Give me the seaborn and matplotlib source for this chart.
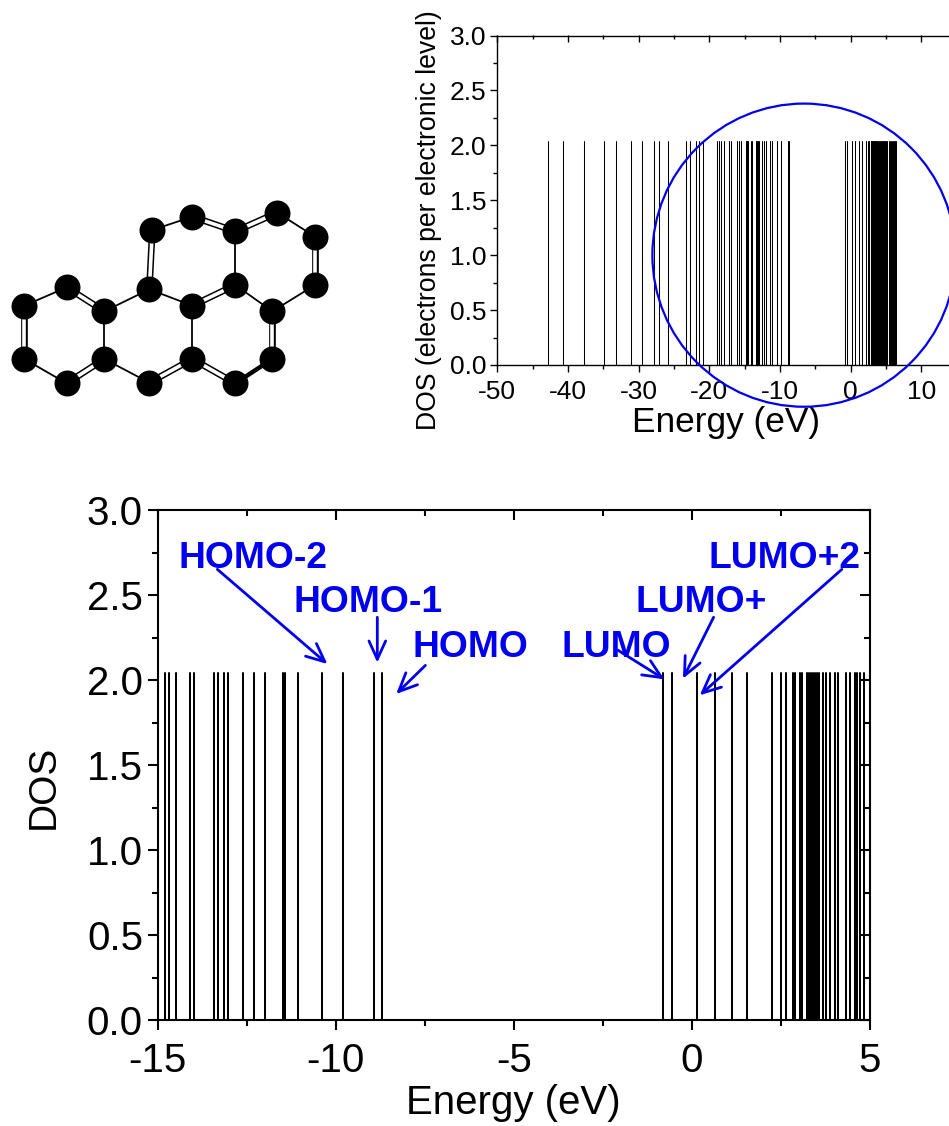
import pandas as pd
import seaborn as sns
import matplotlib.pyplot as plt
from matplotlib.patches import Ellipse
from matplotlib.ticker import MultipleLocator, FormatStrFormatter

# electronic levels in eV, all of them (the lower panel only shows -15..5)
levels_low = [-42.87, -40.7, -37.67, -34.9, -33.27, -31.04, -29.55, -27.82, -27.18, -25.84,
              -23.27, -22.67, -21.93, -21.39, -20.89, -18.94, -18.66, -18.37, -17.9, -17.15,
              -16.87, -16.11, -15.83, -15.46]
levels_occ = [-14.79, -14.69, -14.49, -14.09, -13.97, -13.41, -13.31, -13.13, -13.03,
              -12.6, -12.3, -11.97, -11.47, -11.41, -11.06, -10.39, -9.78, -8.92, -8.7]
levels_virt = [-0.82, -0.57, 0.13, 0.65, 1.14, 1.56, 2.25, 2.5, 2.65, 2.85, 2.89, 3.03, 3.08,
               3.24, 3.29, 3.35, 3.41, 3.46, 3.52, 3.58, 3.69, 3.77, 3.88, 4.02, 4.1, 4.32,
               4.43, 4.57, 4.64, 4.71, 4.84]
levels_high = [5.0, 5.2, 5.4, 5.6, 5.75, 5.9, 6.05, 6.2, 6.32, 6.43]
peak = 2.04

# label, text x, text y, arrow start x, y, arrow end x, y
tags = ["HOMO-2", "HOMO-1", "HOMO", "LUMO", "LUMO+", "LUMO+2"]
tag_x = [-14.4, -11.17, -7.85, -3.67, -1.59, 0.46]
tag_y = [2.66, 2.40, 2.137, 2.137, 2.40, 2.66]
arrow_from = [(-13.32, 2.651), (-8.83, 2.369), (-7.48, 2.086), (-2.08, 2.176), (0.61, 2.369), (4.21, 2.651)]
arrow_to = [(-10.23, 2.094), (-8.83, 2.102), (-8.30, 1.918), (-0.77, 2.004), (-0.25, 2.008), (0.22, 1.910)]

# molecule
atom_x = [73, 200, 313, 313, 200, 73, 448, 577, 577, 448, 457, 577, 706, 706, 832, 945, 945, 817, 817, 706]
atom_y = [347, 292, 364, 507, 580, 507, 578, 507, 347, 298, 120, 80, 124, 285, 68, 140, 285, 364, 507, 580]
single_bonds = [(0, 1), (2, 3), (4, 5), (2, 9), (3, 6), (7, 8), (8, 9), (10, 11), (12, 13), (14, 15), (16, 17), (17, 13)]
double_bonds = [(1, 2), (3, 4), (5, 0), (6, 7), (9, 10), (11, 12), (13, 8), (12, 14), (15, 16), (17, 18), (19, 7)]
thick_bonds = [(18, 19)]

sns.set_theme(style="ticks", rc={"text.color": "black", "axes.labelcolor": "black", "xtick.color": "black",
                                 "ytick.color": "black", "axes.edgecolor": "black"})
plt.rcParams['font.family'] = ['Liberation Sans', 'DejaVu Sans']
plt.rcParams['axes.unicode_minus'] = False

W, H = 949, 1126
fig = plt.figure(figsize=(W / 100, H / 100), dpi=100)


def axes_px(left, top, right, bottom):
    return fig.add_axes([left / W, 1 - bottom / H, (right - left) / W, (bottom - top) / H])


all_levels = levels_low + levels_occ + levels_virt + levels_high
sticks = pd.DataFrame({
    "level": [i for i in range(len(all_levels)) for _ in (0, 1)],
    "energy": [e for e in all_levels for _ in (0, 1)],
    "dos": [v for _ in all_levels for v in (0, peak)],
})


def dos_panel(ax, lw, spine, major_len, minor_len, xmajor, xminor, tick_size, xpad, ypad):
    sns.lineplot(data=sticks, x="energy", y="dos", units="level", estimator=None, sort=False,
                 color="black", lw=lw, ax=ax)
    ax.set_ylim(0, 3)
    ax.xaxis.set_major_locator(MultipleLocator(xmajor))
    ax.xaxis.set_minor_locator(MultipleLocator(xminor))
    ax.yaxis.set_major_locator(MultipleLocator(0.5))
    ax.yaxis.set_minor_locator(MultipleLocator(0.25))
    ax.yaxis.set_major_formatter(FormatStrFormatter("%.1f"))
    ax.xaxis.set_major_formatter(FormatStrFormatter("%d"))
    for s in ax.spines.values():
        s.set_linewidth(spine)
    ax.tick_params(which="major", direction="out", length=major_len, width=spine, labelsize=tick_size)
    ax.tick_params(which="minor", direction="out", length=minor_len, width=spine)
    ax.tick_params(axis="x", which="major", pad=xpad)
    ax.tick_params(axis="y", which="major", pad=ypad)
    # top and right ticks point inwards
    top = ax.secondary_xaxis("top")
    right = ax.secondary_yaxis("right")
    for sec, loc1, loc2 in [(top, xmajor, xminor), (right, 0.5, 0.25)]:
        axis = sec.xaxis if sec is top else sec.yaxis
        axis.set_major_locator(MultipleLocator(loc1))
        axis.set_minor_locator(MultipleLocator(loc2))
        sec.tick_params(which="major", direction="in", length=major_len, width=spine, labelbottom=False,
                        labeltop=False, labelleft=False, labelright=False)
        sec.tick_params(which="minor", direction="in", length=minor_len, width=spine)
        for s in sec.spines.values():
            s.set_visible(False)


# lower panel
ax = axes_px(157.5, 510, 870, 1020)
ax.set_xlim(-15, 5)
dos_panel(ax, 1.45, 1.5, 7.5, 4.5, 5, 2.5, 29, 8, 3)
ax.set_xlabel("Energy (eV)", fontsize=29)
ax.set_ylabel("DOS", fontsize=28)
ax.xaxis.set_label_coords(0.5, -0.125)
ax.yaxis.set_label_coords(-0.134, 0.457)
for name, x, y, a, b in zip(tags, tag_x, tag_y, arrow_from, arrow_to):
    ax.text(x, y, name, color="#0000ee", fontsize=26.8, fontweight="bold", va="baseline", ha="left")
    ax.annotate("", xy=b, xytext=a,
                arrowprops=dict(arrowstyle="->,head_length=0.55,head_width=0.25", color="#0000ee", lw=2,
                                shrinkA=0, shrinkB=0, mutation_scale=24))

# upper panel, runs off the right edge of the figure
ins = axes_px(497.3, 35.5, 497.3 + 68 * 7.066, 365)
ins.set_xlim(-50, 18)
dos_panel(ins, 0.75, 1.0, 5, 3, 10, 5, 19, 6, 3)
ins.set_xlabel("Energy (eV)", fontsize=25.4)
ins.set_ylabel("DOS (electrons per electronic level)", fontsize=19.2)
ins.xaxis.set_label_coords((726 - 497.3) / (68 * 7.066), -0.123)
ins.yaxis.set_label_coords(-0.116, 0.44)
ins.add_patch(Ellipse((-6.6, 1.0), 42.9, 2.76, fill=False, edgecolor="#0000ee", lw=1.6, clip_on=False, zorder=5))

# molecule sketch, same units as the atom lists
mol = axes_px(0, 190, 340, 410)
mol.set_xlim(0, 1020)
mol.set_ylim(660, 0)
mol.axis("off")
for i, j in single_bonds:
    mol.plot([atom_x[i], atom_x[j]], [atom_y[i], atom_y[j]], color="black", lw=1.3)
for i, j in double_bonds:
    mol.plot([atom_x[i], atom_x[j]], [atom_y[i], atom_y[j]], color="black", lw=4.8)
    mol.plot([atom_x[i], atom_x[j]], [atom_y[i], atom_y[j]], color="white", lw=2.6)
for i, j in thick_bonds:
    mol.plot([atom_x[i], atom_x[j]], [atom_y[i], atom_y[j]], color="black", lw=3.2)
sns.scatterplot(x=atom_x, y=atom_y, color="black", s=350, linewidth=0, ax=mol, zorder=3, clip_on=False)

fig.savefig("out.png", dpi=100)
